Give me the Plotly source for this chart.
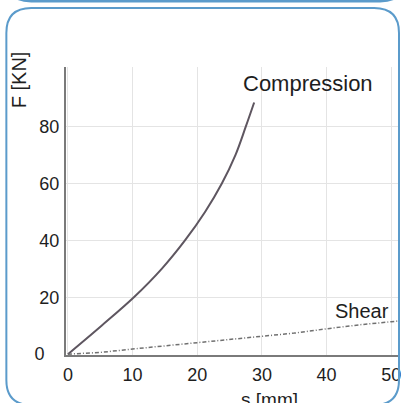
import plotly.graph_objects as go

# ---- data ----
comp_s = [0, 5.2, 10.2, 14.5, 18.1, 21.2, 23.8, 25.9, 27.5, 28.8]
comp_f = [0, 10, 20, 30, 40, 50, 60, 70, 80, 88.5]
shear_s = [0, 5, 10, 15, 20, 25, 30, 35, 40, 45, 50, 52]
shear_f = [0, 0.6, 1.8, 2.9, 3.9, 5.0, 6.1, 7.4, 8.9, 10.3, 11.4, 11.9]
x_ticks = [0, 10, 20, 30, 40, 50]
y_ticks = [0, 20, 40, 60, 80]
y_ticktext = ["0\u00a0\u00a0\u00a0", "20", "40", "60", "80"]

W, H = 401, 403
ML, MR, MT, MB = 66, 0, 67, 48
PW, PH = W - ML - MR, H - MT - MB


def px(x):
    return (x - ML) / PW


def py(y):
    return (H - MB - y) / PH


def rounded(x0, y0, x1, y1, r):
    pts = [
        f"M {px(x0 + r)},{py(y0)}",
        f"L {px(x1 - r)},{py(y0)}",
        f"Q {px(x1)},{py(y0)} {px(x1)},{py(y0 + r)}",
        f"L {px(x1)},{py(y1 - r)}",
        f"Q {px(x1)},{py(y1)} {px(x1 - r)},{py(y1)}",
        f"L {px(x0 + r)},{py(y1)}",
        f"Q {px(x0)},{py(y1)} {px(x0)},{py(y1 - r)}",
        f"L {px(x0)},{py(y0 + r)}",
        f"Q {px(x0)},{py(y0)} {px(x0 + r)},{py(y0)} Z",
    ]
    return " ".join(pts)


def bottom_edge(x0, x1, y, r):
    return (f"M {px(x0)},{py(y - r)} Q {px(x0)},{py(y)} {px(x0 + r)},{py(y)} "
            f"L {px(x1 - r)},{py(y)} Q {px(x1)},{py(y)} {px(x1)},{py(y - r)}")


FONT = "Liberation Sans, Arial, sans-serif"
TXT = "#1e1e1e"
BORDER = "#5b9bcb"

fig = go.Figure()
fig.add_trace(go.Scatter(x=comp_s, y=comp_f, mode="lines", line=dict(color="#5e5660", width=2, shape="spline", smoothing=1.0),
                         showlegend=False, hoverinfo="skip"))
fig.add_trace(go.Scatter(x=shear_s, y=shear_f, mode="lines", line=dict(color="#707070", width=1.5, dash="4px,2px,1px,2px"),
                         showlegend=False, hoverinfo="skip"))

fig.add_annotation(x=37.2, y=95.2, xref="x", yref="y", text="Compression", showarrow=False,
                   xanchor="center", yanchor="middle", font=dict(family=FONT, size=22, color=TXT))
fig.add_annotation(x=45.4, y=15.3, xref="x", yref="y", text="Shear", showarrow=False,
                   xanchor="center", yanchor="middle", font=dict(family=FONT, size=20, color=TXT))
fig.add_annotation(x=px(19), y=py(80), xref="paper", yref="paper", text="F [KN]", textangle=-90, showarrow=False,
                   xanchor="center", yanchor="middle", font=dict(family=FONT, size=20, color=TXT))
fig.add_annotation(x=px(271), y=py(399), xref="paper", yref="paper", text="s [mm]", showarrow=False,
                   xanchor="center", yanchor="middle", font=dict(family=FONT, size=19, color=TXT))

fig.add_shape(type="path", xref="paper", yref="paper", path=rounded(6, 8, 401, 405, 25),
              line=dict(color=BORDER, width=2), layer="above")
fig.add_shape(type="path", xref="paper", yref="paper", path=bottom_edge(6, 407, 1.2, 25),
              line=dict(color=BORDER, width=2.5), layer="above")

fig.update_layout(
    width=W, height=H,
    margin=dict(l=ML, r=MR, t=MT, b=MB, pad=0),
    paper_bgcolor="white", plot_bgcolor="white",
    font=dict(family=FONT, color=TXT),
    showlegend=False,
)
fig.update_xaxes(range=[-0.3, 51.2], tickvals=x_ticks, showgrid=True, gridcolor="#e4e4e4", gridwidth=1,
                 showline=True, linecolor="#7a7a7a", linewidth=2, zeroline=False,
                 tickfont=dict(size=18, color=TXT), ticks="", ticklabelstandoff=2, ticklabeloverflow="allow")
fig.update_yaxes(range=[-0.3, 101], tickvals=y_ticks, ticktext=y_ticktext, showgrid=True, gridcolor="#e4e4e4",
                 gridwidth=1, showline=True, linecolor="#7a7a7a", linewidth=2, zeroline=False,
                 tickfont=dict(size=18, color=TXT), ticks="", ticklabelstandoff=1, ticklabeloverflow="allow")

fig.write_html("out.html", config={"displayModeBar": False},
               post_script="document.body.style.margin='0px';document.body.style.overflow='hidden';")
